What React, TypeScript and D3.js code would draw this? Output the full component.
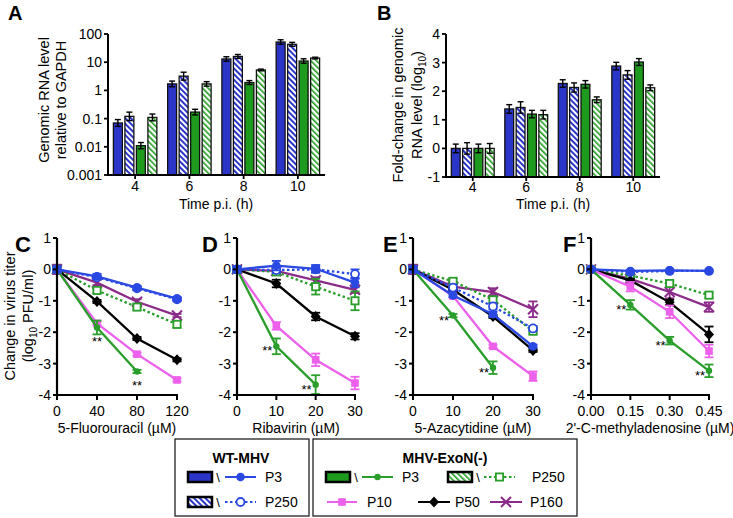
import React from "react";
import * as d3 from "d3";

const FONT = "'Liberation Sans', Arial, Helvetica, sans-serif";

// ---------- Panel A / B data ----------
const timeLabels = ["4", "6", "8", "10"];
const barKeys = ["wtP3", "wtP250", "exoP3", "exoP250"];

const aWtP3 = [0.07, 1.7, 13, 52];
const aWtP250 = [0.12, 3.2, 16, 43];
const aExoP3 = [0.011, 0.17, 1.9, 11];
const aExoP250 = [0.11, 1.7, 5.3, 14];
const aWtP3Err = [0.12, 0.1, 0.08, 0.08];
const aWtP250Err = [0.15, 0.14, 0.07, 0.07];
const aExoP3Err = [0.11, 0.1, 0.07, 0.08];
const aExoP250Err = [0.12, 0.08, 0.03, 0.03];
const aTicks = [0.001, 0.01, 0.1, 1, 10, 100];
const aTickLabels = ["0.001", "0.01", "0.1", "1", "10", "100"];

const bWtP3 = [0, 1.38, 2.27, 2.88];
const bWtP250 = [0, 1.43, 2.13, 2.57];
const bExoP3 = [0, 1.2, 2.24, 3.02];
const bExoP250 = [0, 1.18, 1.7, 2.12];
const bWtP3Err = [0.15, 0.15, 0.13, 0.13];
const bWtP250Err = [0.2, 0.2, 0.16, 0.15];
const bExoP3Err = [0.15, 0.13, 0.13, 0.12];
const bExoP250Err = [0.17, 0.15, 0.1, 0.1];
const bTicks = [-1, 0, 1, 2, 3, 4];

// ---------- Panels C-F data ----------
const cDoses = [0, 40, 80, 120];
const dDoses = [0, 10, 20, 30];
const eDoses = [0, 10, 20, 30];
const fDoses = [0, 0.15, 0.3, 0.45];
const cTickLabels = ["0", "40", "80", "120"];
const dTickLabels = ["0", "10", "20", "30"];
const eTickLabels = ["0", "10", "20", "30"];
const fTickLabels = ["0.00", "0.15", "0.30", "0.45"];
const titerTicks = [-4, -3, -2, -1, 0, 1];

// 5-Fluorouracil
const cWtP3 = [0, -0.22, -0.58, -0.93];
const cWtP250 = [0, -0.25, -0.6, -0.95];
const cExoP3 = [0, -1.85, -3.25, null];
const cExoP250 = [0, -0.67, -1.2, -1.75];
const cP10 = [0, -1.72, -2.7, -3.52];
const cP50 = [0, -1.02, -2.2, -2.88];
const cP160 = [0, -0.42, -1.03, -1.47];
const cWtP3Err = [0.1, 0.08, 0.05, 0.05];
const cWtP250Err = [0.1, 0.05, 0.05, 0.05];
const cExoP3Err = [0.1, 0.22, 0.05, 0];
const cExoP250Err = [0.1, 0.08, 0.08, 0.1];
const cP10Err = [0.1, 0.05, 0.05, 0.05];
const cP50Err = [0.1, 0.05, 0.05, 0.05];
const cP160Err = [0.15, 0.08, 0.08, 0.05];

// Ribavirin
const dWtP3 = [0, 0.12, 0.02, -0.42];
const dWtP250 = [0, -0.02, 0.0, -0.15];
const dExoP3 = [0, -2.45, -3.67, null];
const dExoP250 = [0, -0.08, -0.55, -1.0];
const dP10 = [0, -1.8, -2.88, -3.62];
const dP50 = [0, -0.45, -1.5, -2.13];
const dP160 = [0, -0.05, -0.35, -0.65];
const dWtP3Err = [0.1, 0.15, 0.12, 0.15];
const dWtP250Err = [0.1, 0.1, 0.1, 0.15];
const dExoP3Err = [0.1, 0.25, 0.3, 0];
const dExoP250Err = [0.1, 0.1, 0.25, 0.3];
const dP10Err = [0.1, 0.12, 0.2, 0.2];
const dP50Err = [0.1, 0.12, 0.12, 0.1];
const dP160Err = [0.1, 0.08, 0.1, 0.1];

// 5-Azacytidine
const eWtP3 = [0, -0.83, -1.43, -2.45];
const eWtP250 = [0, -0.58, -1.18, -1.88];
const eExoP3 = [0, -1.47, -3.13, null];
const eExoP250 = [0, -0.38, -0.97, -1.97];
const eP10 = [0, -0.85, -2.45, -3.4];
const eP50 = [0, -0.65, -1.5, -2.58];
const eP160 = [0, -0.55, -0.72, -1.27];
const eWtP3Err = [0.1, 0.05, 0.08, 0.05];
const eWtP250Err = [0.1, 0.1, 0.1, 0.08];
const eExoP3Err = [0.05, 0.05, 0.2, 0];
const eExoP250Err = [0.1, 0.1, 0.1, 0.08];
const eP10Err = [0.1, 0.05, 0.05, 0.15];
const eP50Err = [0.1, 0.05, 0.05, 0.05];
const eP160Err = [0.15, 0.08, 0.12, 0.25];

// 2'-C-methyladenosine
const fWtP3 = [0, -0.05, -0.03, -0.05];
const fWtP250 = [0, -0.08, -0.05, -0.05];
const fExoP3 = [0, -1.13, -2.27, -3.23];
const fExoP250 = [0, -0.2, -0.45, -0.82];
const fP10 = [0, -0.55, -1.35, -2.6];
const fP50 = [0, -0.35, -1.05, -2.07];
const fP160 = [0, -0.3, -0.72, -1.2];
const fWtP3Err = [0.05, 0.03, 0.03, 0.03];
const fWtP250Err = [0.05, 0.03, 0.03, 0.03];
const fExoP3Err = [0.05, 0.15, 0.12, 0.2];
const fExoP250Err = [0.05, 0.05, 0.1, 0.08];
const fP10Err = [0.05, 0.15, 0.2, 0.2];
const fP50Err = [0.05, 0.05, 0.08, 0.25];
const fP160Err = [0.05, 0.08, 0.2, 0.15];

// colours
const BLUE_BAR = "#2b35c8";
const BLUE_LINE = "#2a48e2";
const GREEN_BAR = "#1e9b1e";
const GREEN_LINE = "#2a9e2a";
const MAGENTA = "#ec60ec";
const PURPLE = "#8c2c8a";
const BLACK = "#000";

type Marker = "dot" | "small" | "open" | "square" | "osquare" | "diamond" | "x";

const lineStyles: Record<string, { color: string; dash?: string; marker: Marker }> = {
  p160: { color: PURPLE, marker: "x" },
  exoP250: { color: GREEN_LINE, dash: "2.5,2.5", marker: "osquare" },
  p50: { color: BLACK, marker: "diamond" },
  p10: { color: MAGENTA, marker: "square" },
  exoP3: { color: GREEN_LINE, marker: "small" },
  wtP250: { color: BLUE_LINE, dash: "2.5,2.5", marker: "open" },
  wtP3: { color: BLUE_LINE, marker: "dot" },
};
const drawOrder = ["p160", "exoP250", "p50", "p10", "exoP3", "wtP250", "wtP3"];

function MarkerShape({ type, x, y, color }: { type: Marker; x: number; y: number; color: string }) {
  switch (type) {
    case "dot":
      return <circle cx={x} cy={y} r={4.3} fill={color} />;
    case "small":
      return <circle cx={x} cy={y} r={3.2} fill={color} />;
    case "open":
      return <circle cx={x} cy={y} r={4} fill="#fff" stroke={color} strokeWidth={1.8} />;
    case "square":
      return <rect x={x - 3.8} y={y - 3.8} width={7.6} height={7.6} fill={color} />;
    case "osquare":
      return <rect x={x - 3.6} y={y - 3.6} width={7.2} height={7.2} fill="#fff" stroke={color} strokeWidth={1.8} />;
    case "diamond":
      return <polygon points={`${x},${y - 5.5} ${x + 5},${y} ${x},${y + 5.5} ${x - 5},${y}`} fill={color} />;
    case "x":
      return (
        <g stroke={color} strokeWidth={2}>
          <line x1={x - 5} y1={y - 5} x2={x + 5} y2={y + 5} />
          <line x1={x - 5} y1={y + 5} x2={x + 5} y2={y - 5} />
        </g>
      );
  }
  return null;
}

function BarPanel({
  x0, x1, yScale, base, values, errs, isLog, ticks, tickLabels, labelOffset,
}: {
  x0: number; x1: number; yScale: any; base: number; values: number[][]; errs: number[][]; isLog: boolean;
  ticks: number[]; tickLabels: string[]; labelOffset: number;
}) {
  const xs = d3.scaleBand<string>().domain(timeLabels).range([x0, x1]);
  const bw = xs.bandwidth();
  const pitch = bw * 0.212;
  const w = bw * 0.165;
  const fills = [BLUE_BAR, "url(#hatchBlue)", GREEN_BAR, "url(#hatchGreen)"];
  const yBase = yScale(base);
  const yTop = yScale.range()[1];
  return (
    <g>
      {timeLabels.map((t, gi) => {
        const cx = (xs(t) as number) + bw / 2;
        return barKeys.map((k, j) => {
          const v = values[j][gi];
          const e = errs[j][gi];
          const bx = cx + (j - 1.5) * pitch - w / 2;
          const yv = yScale(v);
          const lo = isLog ? yScale(v / Math.pow(10, e)) : yScale(v - e);
          const hi = isLog ? yScale(v * Math.pow(10, e)) : yScale(v + e);
          const ex = bx + w / 2;
          return (
            <g key={k + t}>
              <rect x={bx} y={yv} width={w} height={yBase - yv} fill={fills[j]} stroke="#111" strokeWidth={1.3} />
              <g stroke="#000" strokeWidth={1.4}>
                <line x1={ex} x2={ex} y1={lo} y2={hi} />
                <line x1={ex - 3} x2={ex + 3} y1={lo} y2={lo} />
                <line x1={ex - 3} x2={ex + 3} y1={hi} y2={hi} />
              </g>
            </g>
          );
        });
      })}
      <line x1={x0} x2={x0} y1={yTop} y2={yBase} stroke="#000" strokeWidth={2} />
      <line x1={x0 - 1} x2={x1} y1={yBase} y2={yBase} stroke="#000" strokeWidth={2} />
      {ticks.map((tv, i) => (
        <g key={"yt" + i}>
          <line x1={x0 - 4} x2={x0} y1={yScale(tv)} y2={yScale(tv)} stroke="#000" strokeWidth={1.8} />
          <text x={x0 - 6} y={yScale(tv)} dy="0.35em" textAnchor="end" fontSize={14}>{tickLabels[i]}</text>
        </g>
      ))}
      {timeLabels.map((t) => {
        const cx = (xs(t) as number) + bw / 2;
        return (
          <g key={"xt" + t}>
            <line x1={cx} x2={cx} y1={yBase} y2={yBase + 4} stroke="#000" strokeWidth={1.8} />
            <text x={cx} y={yBase + labelOffset} textAnchor="middle" fontSize={14}>{t}</text>
          </g>
        );
      })}
    </g>
  );
}

type Panel = {
  letter: string; letterX: number; doses: number[]; tickLabels: string[]; label: string; x0: number; x1: number;
  series: Record<string, (number | null)[]>; errs: Record<string, number[]>;
  stars: { i: number; pos: "below" | "left" }[];
};

const panels: Panel[] = [
  {
    letter: "C", letterX: 15, doses: cDoses, tickLabels: cTickLabels, label: "5-Fluorouracil (\u00b5M)", x0: 57, x1: 177,
    series: { wtP3: cWtP3, wtP250: cWtP250, exoP3: cExoP3, exoP250: cExoP250, p10: cP10, p50: cP50, p160: cP160 },
    errs: { wtP3: cWtP3Err, wtP250: cWtP250Err, exoP3: cExoP3Err, exoP250: cExoP250Err, p10: cP10Err, p50: cP50Err, p160: cP160Err },
    stars: [{ i: 1, pos: "below" }, { i: 2, pos: "below" }],
  },
  {
    letter: "D", letterX: 202, doses: dDoses, tickLabels: dTickLabels, label: "Ribavirin (\u00b5M)", x0: 237, x1: 355,
    series: { wtP3: dWtP3, wtP250: dWtP250, exoP3: dExoP3, exoP250: dExoP250, p10: dP10, p50: dP50, p160: dP160 },
    errs: { wtP3: dWtP3Err, wtP250: dWtP250Err, exoP3: dExoP3Err, exoP250: dExoP250Err, p10: dP10Err, p50: dP50Err, p160: dP160Err },
    stars: [{ i: 1, pos: "left" }, { i: 2, pos: "left" }],
  },
  {
    letter: "E", letterX: 383, doses: eDoses, tickLabels: eTickLabels, label: "5-Azacytidine (\u00b5M)", x0: 413, x1: 533,
    series: { wtP3: eWtP3, wtP250: eWtP250, exoP3: eExoP3, exoP250: eExoP250, p10: eP10, p50: eP50, p160: eP160 },
    errs: { wtP3: eWtP3Err, wtP250: eWtP250Err, exoP3: eExoP3Err, exoP250: eExoP250Err, p10: eP10Err, p50: eP50Err, p160: eP160Err },
    stars: [{ i: 1, pos: "left" }, { i: 2, pos: "left" }],
  },
  {
    letter: "F", letterX: 563, doses: fDoses, tickLabels: fTickLabels, label: "2'-C-methyladenosine (\u00b5M)", x0: 591, x1: 709,
    series: { wtP3: fWtP3, wtP250: fWtP250, exoP3: fExoP3, exoP250: fExoP250, p10: fP10, p50: fP50, p160: fP160 },
    errs: { wtP3: fWtP3Err, wtP250: fWtP250Err, exoP3: fExoP3Err, exoP250: fExoP250Err, p10: fP10Err, p50: fP50Err, p160: fP160Err },
    stars: [{ i: 1, pos: "left" }, { i: 2, pos: "left" }, { i: 3, pos: "left" }],
  },
];

function LinePanel({ p }: { p: Panel }) {
  const x = d3.scaleLinear().domain([0, p.doses[3]]).range([p.x0, p.x1]);
  const y = d3.scaleLinear().domain([-4, 1]).range([395, 238]);
  return (
    <g>
      {drawOrder.map((k) => {
        const st = lineStyles[k];
        const vals = p.series[k];
        const errs = p.errs[k];
        const pts = p.doses.map((d, i) => ({ d, v: vals[i] })).filter((q) => q.v !== null) as { d: number; v: number }[];
        const line = d3.line<{ d: number; v: number }>().x((q) => x(q.d)).y((q) => y(q.v));
        return (
          <g key={k}>
            <path d={line(pts) || ""} fill="none" stroke={st.color} strokeWidth={2.3} strokeDasharray={st.dash} />
            {pts.map((q, i) => {
              const e = errs[i];
              const px = x(q.d);
              return (
                <g key={i}>
                  {e > 0.04 && (
                    <g stroke={st.color} strokeWidth={1.8}>
                      <line x1={px} x2={px} y1={y(q.v - e)} y2={y(q.v + e)} />
                      <line x1={px - 4.5} x2={px + 4.5} y1={y(q.v - e)} y2={y(q.v - e)} />
                      <line x1={px - 4.5} x2={px + 4.5} y1={y(q.v + e)} y2={y(q.v + e)} />
                    </g>
                  )}
                  <MarkerShape type={st.marker} x={px} y={y(q.v)} color={st.color} />
                </g>
              );
            })}
          </g>
        );
      })}
      {p.stars.map((s, i) => {
        const v = p.series.exoP3[s.i] as number;
        const px = x(p.doses[s.i]);
        const py = y(v);
        return s.pos === "below" ? (
          <text key={i} x={px} y={py + 12 + 7} textAnchor="middle" fontSize={13}>**</text>
        ) : (
          <text key={i} x={px - 4} y={py + 2 + 7} textAnchor="end" fontSize={13}>**</text>
        );
      })}
      <line x1={p.x0} x2={p.x0} y1={238} y2={395} stroke="#000" strokeWidth={2.2} />
      <line x1={p.x0 - 1} x2={p.x1 + 1} y1={395} y2={395} stroke="#000" strokeWidth={2.2} />
      {titerTicks.map((t) => (
        <g key={"y" + t}>
          <line x1={p.x0 - 4} x2={p.x0} y1={y(t)} y2={y(t)} stroke="#000" strokeWidth={2} />
          <text x={p.x0 - 6} y={y(t)} dy="0.35em" textAnchor="end" fontSize={14}>{t < 0 ? "-" + Math.abs(t) : String(t)}</text>
        </g>
      ))}
      {p.doses.map((d, i) => (
        <g key={"x" + i}>
          <line x1={x(d)} x2={x(d)} y1={395} y2={400} stroke="#000" strokeWidth={2} />
          <text x={x(d)} y={416} textAnchor="middle" fontSize={14}>{p.tickLabels[i]}</text>
        </g>
      ))}
      <text x={(p.x0 + p.x1) / 2} y={433} textAnchor="middle" fontSize={14}>{p.label}</text>
      <text x={p.letterX} y={252} fontSize={22} fontWeight="bold">{p.letter}</text>
    </g>
  );
}

function LegendSwatch({ x, y, fill }: { x: number; y: number; fill: string }) {
  return <rect x={x} y={y - 5} width={24} height={10} fill={fill} stroke="#000" strokeWidth={2.5} />;
}

function LegendLine({ x1, x2, y, k }: { x1: number; x2: number; y: number; k: string }) {
  const st = lineStyles[k];
  return (
    <g>
      <line x1={x1} x2={x2} y1={y} y2={y} stroke={st.color} strokeWidth={2} strokeDasharray={st.dash} />
      <MarkerShape type={st.marker} x={(x1 + x2) / 2} y={y} color={st.color} />
    </g>
  );
}

export default function App() {
  const aY = d3.scaleLog().domain([0.001, 100]).range([175, 34]);
  const bY = d3.scaleLinear().domain([-1, 4]).range([177, 34]);
  const r1 = 477;
  const r2 = 502;
  return (
    <svg width={733} height={518} style={{ position: "absolute", left: 0, top: 0, background: "#fff" }} fontFamily={FONT}>
      <defs>
        <pattern id="hatchBlue" width={4} height={4} patternUnits="userSpaceOnUse" patternTransform="rotate(-45)">
          <rect width={4} height={4} fill="#fff" />
          <rect width={2} height={4} fill={BLUE_BAR} />
        </pattern>
        <pattern id="hatchGreen" width={4} height={4} patternUnits="userSpaceOnUse" patternTransform="rotate(-45)">
          <rect width={4} height={4} fill="#fff" />
          <rect width={1.6} height={4} fill={GREEN_BAR} />
        </pattern>
      </defs>
      <rect width={733} height={518} fill="#fff" />

      {/* Panel A */}
      <text x={8} y={20} fontSize={20} fontWeight="bold">A</text>
      <BarPanel x0={108} x1={325} yScale={aY} base={0.001} isLog={true} labelOffset={16}
        values={[aWtP3, aWtP250, aExoP3, aExoP250]} errs={[aWtP3Err, aWtP250Err, aExoP3Err, aExoP250Err]}
        ticks={aTicks} tickLabels={aTickLabels} />
      <text transform="translate(44,100) rotate(-90)" textAnchor="middle" dy="0.35em" fontSize={14.5}>Genomic RNA level</text>
      <text transform="translate(61,100) rotate(-90)" textAnchor="middle" dy="0.35em" fontSize={14.5}>relative to GAPDH</text>
      <text x={216} y={209} textAnchor="middle" fontSize={14}>Time p.i. (h)</text>

      {/* Panel B */}
      <text x={377} y={20} fontSize={20} fontWeight="bold">B</text>
      <BarPanel x0={446} x1={660} yScale={bY} base={-1} isLog={false} labelOffset={15}
        values={[bWtP3, bWtP250, bExoP3, bExoP250]} errs={[bWtP3Err, bWtP250Err, bExoP3Err, bExoP250Err]}
        ticks={bTicks} tickLabels={bTicks.map((t) => (t < 0 ? "-" + Math.abs(t) : String(t)))} />
      <text transform="translate(398,105) rotate(-90)" textAnchor="middle" dy="0.35em" fontSize={14.5}>Fold-change in genomic</text>
      <text transform="translate(417,105) rotate(-90)" textAnchor="middle" dy="0.35em" fontSize={14.5}>
        RNA level (log<tspan fontSize={10} dy="4">10</tspan><tspan dy="-4">)</tspan>
      </text>
      <text x={553} y={209} textAnchor="middle" fontSize={14}>Time p.i. (h)</text>

      {/* Panels C-F */}
      {panels.map((p) => <LinePanel key={p.letter} p={p} />)}
      <text transform="translate(10,316) rotate(-90)" textAnchor="middle" dy="0.35em" fontSize={14.5}>Change in virus titer</text>
      <text transform="translate(28,316) rotate(-90)" textAnchor="middle" dy="0.35em" fontSize={14.5}>
        (log<tspan fontSize={10} dy="4">10</tspan><tspan dy="-4"> PFU/ml)</tspan>
      </text>

      {/* Legend */}
      <rect x={175} y={439} width={134} height={77} fill="none" stroke="#222" strokeWidth={1.3} />
      <text x={241} y={458} dy="0.35em" textAnchor="middle" fontSize={14} fontWeight="bold">WT-MHV</text>
      <LegendSwatch x={188} y={r1} fill={BLUE_BAR} />
      <text x={218} y={r1} dy="0.35em" textAnchor="middle" fontSize={13}>{"\\"}</text>
      <LegendLine x1={225} x2={256} y={r1} k="wtP3" />
      <text x={265} y={r1} dy="0.35em" fontSize={14}>P3</text>
      <LegendSwatch x={188} y={r2} fill="url(#hatchBlue)" />
      <text x={218} y={r2} dy="0.35em" textAnchor="middle" fontSize={13}>{"\\"}</text>
      <LegendLine x1={225} x2={256} y={r2} k="wtP250" />
      <text x={265} y={r2} dy="0.35em" fontSize={14}>P250</text>

      <rect x={313} y={439} width={264} height={77} fill="none" stroke="#222" strokeWidth={1.3} />
      <text x={445} y={458} dy="0.35em" textAnchor="middle" fontSize={14} fontWeight="bold">MHV-ExoN(-)</text>
      <LegendSwatch x={326} y={r1} fill={GREEN_BAR} />
      <text x={356} y={r1} dy="0.35em" textAnchor="middle" fontSize={13}>{"\\"}</text>
      <LegendLine x1={362} x2={393} y={r1} k="exoP3" />
      <text x={402} y={r1} dy="0.35em" fontSize={14}>P3</text>
      <LegendSwatch x={448} y={r1} fill="url(#hatchGreen)" />
      <text x={478} y={r1} dy="0.35em" textAnchor="middle" fontSize={13}>{"\\"}</text>
      <LegendLine x1={484} x2={515} y={r1} k="exoP250" />
      <text x={532} y={r1} dy="0.35em" fontSize={14}>P250</text>
      <LegendLine x1={327} x2={357} y={r2} k="p10" />
      <text x={367} y={r2} dy="0.35em" fontSize={14}>P10</text>
      <LegendLine x1={418} x2={450} y={r2} k="p50" />
      <text x={455} y={r2} dy="0.35em" fontSize={14}>P50</text>
      <LegendLine x1={490} x2={522} y={r2} k="p160" />
      <text x={530} y={r2} dy="0.35em" fontSize={14}>P160</text>
    </svg>
  );
}
